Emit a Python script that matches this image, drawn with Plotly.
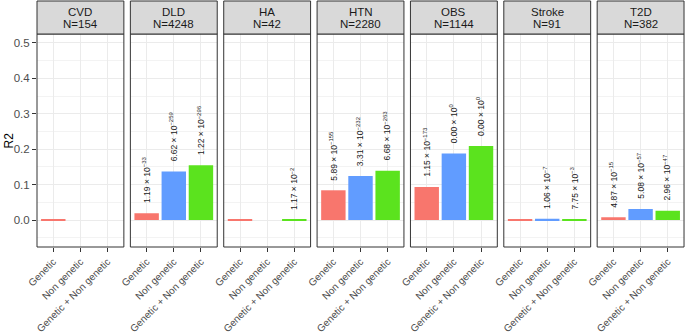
import plotly.graph_objects as go

# ---------------- data ----------------
panels = ["CVD", "DLD", "HA", "HTN", "OBS", "Stroke", "T2D"]
panel_n = ["N=154", "N=4248", "N=42", "N=2280", "N=1144", "N=91", "N=382"]
categories = ["Genetic", "Non genetic", "Genetic + Non genetic"]

r2_genetic = [0.0008, 0.019, 0.0008, 0.084, 0.093, 0.0005, 0.008]
r2_nongenetic = [0.0, 0.137, 0.0, 0.124, 0.188, 0.004, 0.031]
r2_combined = [0.0, 0.155, 0.0008, 0.139, 0.209, 0.001, 0.026]

p_genetic = [None, "1.19 × 10<sup>−33</sup>", None, "5.89 × 10<sup>−155</sup>",
             "1.15 × 10<sup>−173</sup>", None, "4.87 × 10<sup>−15</sup>"]
p_nongenetic = [None, "6.62 × 10<sup>−259</sup>", None, "3.31 × 10<sup>−232</sup>",
                "0.00 × 10<sup>0</sup>", "1.06 × 10<sup>−7</sup>", "5.08 × 10<sup>−57</sup>"]
p_combined = [None, "1.22 × 10<sup>−296</sup>", "1.17 × 10<sup>−2</sup>", "6.68 × 10<sup>−263</sup>",
              "0.00 × 10<sup>0</sup>", "7.75 × 10<sup>−3</sup>", "2.96 × 10<sup>−47</sup>"]

y_ticks = [0.0, 0.1, 0.2, 0.3, 0.4, 0.5]

colors = ["#F8766D", "#619CFF", "#5BE31E"]

# ---------------- layout helpers ----------------
W, H = 685, 334
FONT = "Liberation Sans, Arial, sans-serif"


def fx(p):
    return p / W


def fy(p):
    return 1 - p / H


left0, pw, gap = 37.0, 86.86, 6.5
panel_top, panel_bot = 34.0, 247.0
strip_top = 1.0

fig = go.Figure()
layout = dict(
    width=W, height=H, margin=dict(l=0, r=0, t=0, b=0, autoexpand=False),
    paper_bgcolor="white", plot_bgcolor="white",
    showlegend=False, bargap=0.1,
    font=dict(family=FONT, color="#4D4D4D"),
)
shapes = []
annotations = []

for i, name in enumerate(panels):
    k = i + 1
    sx = "" if k == 1 else str(k)
    L = left0 + i * (pw + gap)
    R = L + pw
    vals = [r2_genetic[i], r2_nongenetic[i], r2_combined[i]]
    labs = [p_genetic[i], p_nongenetic[i], p_combined[i]]

    fig.add_trace(go.Bar(
        x=categories, y=vals, width=0.9,
        marker=dict(color=colors, line=dict(width=0)),
        xaxis="x" + sx, yaxis="y" + sx, hoverinfo="skip",
    ))

    layout["xaxis" + sx] = dict(
        domain=[fx(L), fx(R)], anchor="y" + sx, automargin=False,
        type="category", categoryorder="array", categoryarray=categories,
        range=[-0.6, 2.6], showgrid=True, gridcolor="#EBEBEB", gridwidth=1,
        zeroline=False, showline=False,
        ticks="outside", ticklen=4, tickwidth=1, tickcolor="#333333",
        tickangle=-45, tickfont=dict(size=10, color="#4D4D4D", family=FONT),
    )
    layout["yaxis" + sx] = dict(
        domain=[fy(panel_bot), fy(panel_top)], anchor="x" + sx, automargin=False,
        range=[-0.076, 0.525], tickvals=y_ticks,
        ticktext=[f"{v:.1f}" for v in y_ticks],
        showticklabels=(k == 1),
        ticks="outside" if k == 1 else "", ticklen=4, tickwidth=1, tickcolor="#333333",
        tickfont=dict(size=11.5, color="#4D4D4D", family=FONT),
        showgrid=True, gridcolor="#EBEBEB", gridwidth=1,
        minor=dict(tickvals=[-0.05, 0.05, 0.15, 0.25, 0.35, 0.45], showgrid=True,
                   gridcolor="#F3F3F3", gridwidth=0.6, ticks=""),
        zeroline=False, showline=False,
    )

    # panel border
    shapes.append(dict(type="rect", xref="paper", yref="paper",
                       x0=fx(L), x1=fx(R), y0=fy(panel_bot), y1=fy(panel_top),
                       line=dict(color="#333333", width=1), fillcolor="rgba(0,0,0,0)",
                       layer="above"))
    # strip
    shapes.append(dict(type="rect", xref="paper", yref="paper",
                       x0=fx(L), x1=fx(R), y0=fy(panel_top), y1=fy(strip_top),
                       line=dict(color="#333333", width=1), fillcolor="#D9D9D9",
                       layer="above"))
    cx = fx((L + R) / 2)
    annotations.append(dict(x=cx, y=fy(11.8), xref="paper", yref="paper",
                            text=name, showarrow=False, xanchor="center", yanchor="middle",
                            font=dict(size=11.5, color="#1A1A1A", family=FONT)))
    annotations.append(dict(x=cx, y=fy(24.2), xref="paper", yref="paper",
                            text=panel_n[i], showarrow=False, xanchor="center", yanchor="middle",
                            font=dict(size=11.5, color="#1A1A1A", family=FONT)))

    # p-value labels
    for cat, v, lab in zip(categories, vals, labs):
        if lab is None:
            continue
        annotations.append(dict(x=cat, y=v, xref="x" + sx, yref="y" + sx,
                                text=lab, showarrow=False, textangle=-90,
                                xanchor="center", yanchor="bottom", yshift=8,
                                font=dict(size=8.5, color="#1A1A1A", family=FONT)))

# y-axis title
annotations.append(dict(x=fx(8), y=fy((panel_top + panel_bot) / 2), xref="paper", yref="paper",
                        text="R2", showarrow=False, textangle=-90,
                        xanchor="center", yanchor="middle",
                        font=dict(size=12, color="#000000", family=FONT)))

layout["shapes"] = shapes
layout["annotations"] = annotations
fig.update_layout(**layout)
fig.write_html("out.html", config={"displayModeBar": False},
               post_script="document.body.style.margin='0';document.body.style.padding='0';")
